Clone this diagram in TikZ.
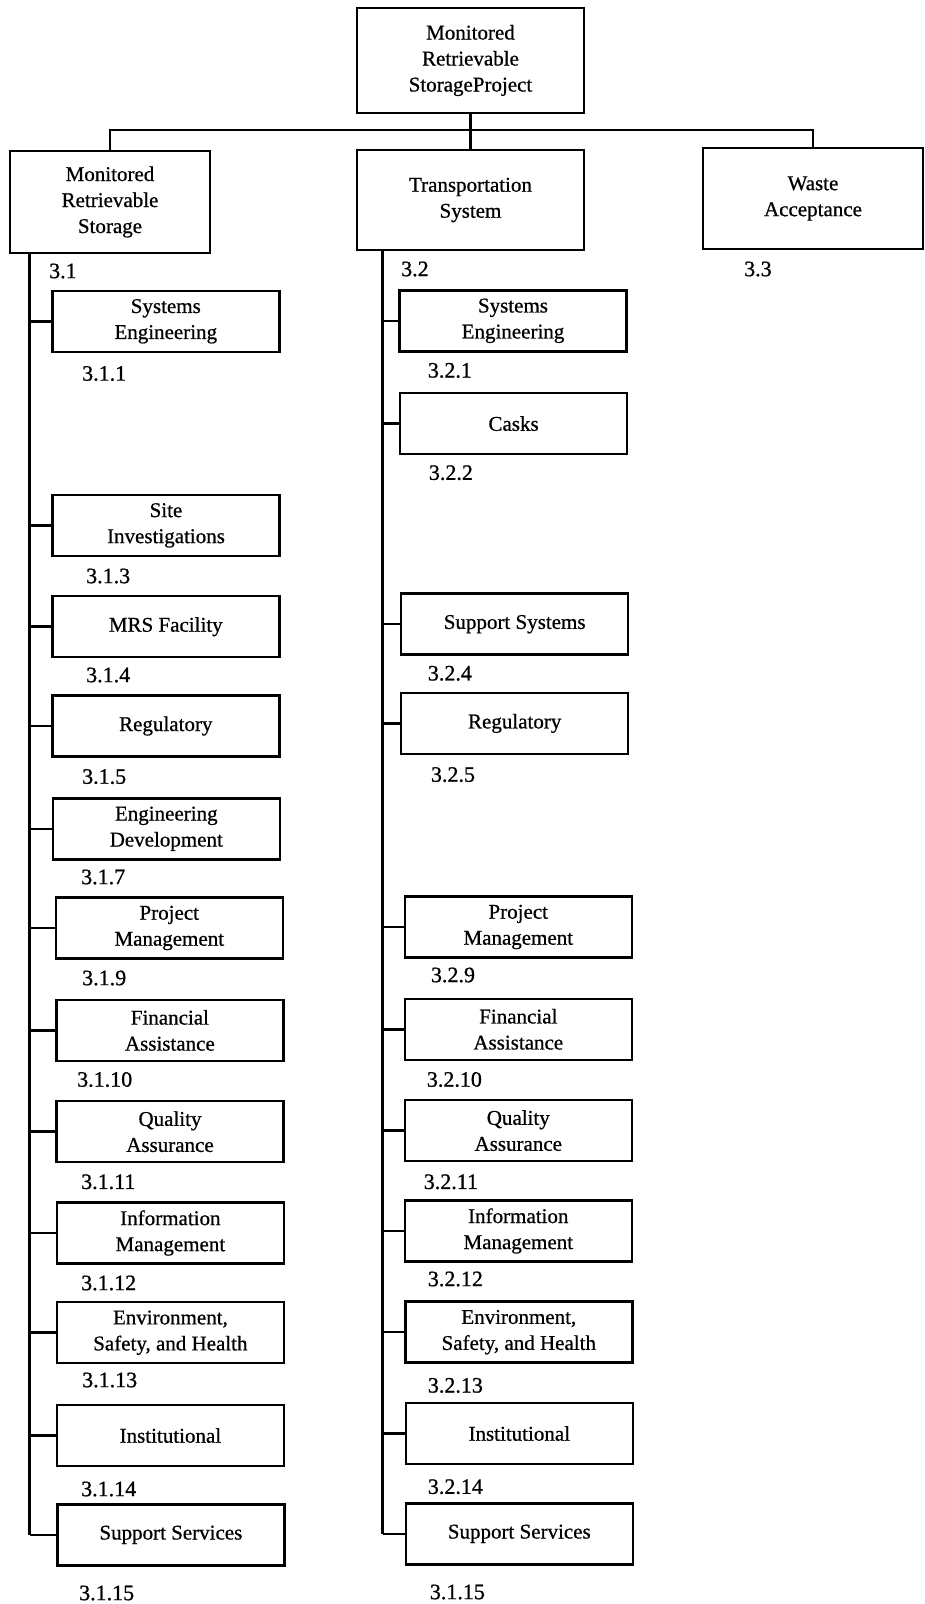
\documentclass[tikz,border=0pt]{standalone}
\usepackage{fontspec}
\setmainfont{Liberation Serif}
\newfontfamily\boxfont[FakeBold=0.7]{Liberation Serif}
\newfontfamily\lblfont[FakeBold=0.9]{Liberation Serif}
\begin{document}
\begin{tikzpicture}[x=1pt,y=-1pt,
  box/.style={draw,line width=2.5pt,minimum width=227pt,minimum height=61pt,inner sep=0pt,align=center,font=\boxfont\fontsize{21}{26}\selectfont},
  lbl/.style={anchor=west,inner sep=0pt,font=\lblfont\fontsize{22}{26}\selectfont},
  conn/.style={line width=2.5pt}]
\useasboundingbox (0,0) rectangle (925,1604);
% top
\node[box,minimum height=105pt] (top) at (470.5,60.5) {Monitored\\Retrievable\\StorageProject};
\node[box,minimum width=200pt,minimum height=102pt] (mrs) at (110,202) {Monitored\\Retrievable\\Storage};
\node[box,minimum height=100pt] (trans) at (470.5,200) {Transportation\\System};
\node[box,minimum width=220pt,minimum height=101pt] (waste) at (813,198.5) {Waste\\Acceptance};
\node[lbl] (l31) at (49,271) {3.1};
\node[lbl] (l32) at (401,269) {3.2};
\node[lbl] (l33) at (744,269) {3.3};
\coordinate (bus) at (470.5,130);
\draw[conn] (top.south) -- (bus);
\draw[conn] (bus) -- (trans.north);
\draw[conn] (mrs.north) |- (bus) -| (waste.north);
% left column
\node[box] (a1) at (165.8,321.3) {Systems\\Engineering};
\node[box] (a3) at (166,525.4) {Site\\Investigations};
\node[box] (a4) at (165.8,626.7) {MRS Facility};
\node[box] (a5) at (165.8,726) {Regulatory};
\node[box] (a7) at (166.3,828.8) {Engineering\\Development};
\node[box] (a9) at (169.3,928) {Project\\Management};
\node[box] (a10) at (169.9,1030.4) {Financial\\Assistance};
\node[box] (a11) at (170,1131.7) {Quality\\Assurance};
\node[box] (a12) at (170.4,1233) {Information\\Management};
\node[box] (a13) at (170.4,1332.7) {Environment,\\Safety, and Health};
\node[box] (a14) at (170.4,1435.5) {Institutional};
\node[box] (a15) at (170.9,1534.8) {Support Services};
\node[lbl] (la1) at (82,373.5) {3.1.1};
\node[lbl] (la3) at (86,576) {3.1.3};
\node[lbl] (la4) at (86,675) {3.1.4};
\node[lbl] (la5) at (82,776.6) {3.1.5};
\node[lbl] (la7) at (81,877) {3.1.7};
\node[lbl] (la9) at (82,978) {3.1.9};
\node[lbl] (la10) at (77,1079.5) {3.1.10};
\node[lbl] (la11) at (81,1181.8) {3.1.11};
\node[lbl] (la12) at (81,1283) {3.1.12};
\node[lbl] (la13) at (82,1380) {3.1.13};
\node[lbl] (la14) at (81,1489) {3.1.14};
\node[lbl] (la15) at (79,1593) {3.1.15};
\coordinate (tL) at (29.7,0);
\draw[conn] (mrs.south -| tL) -- (a15.west -| tL);
\foreach \n in {a1,a3,a4,a5,a7,a9,a10,a11,a12,a13,a14,a15}
  \draw[conn] (\n.west -| tL) -- (\n.west);
% right column
\node[box] (b1) at (513,320.8) {Systems\\Engineering};
\node[box] (b2) at (513.6,423.6) {Casks};
\node[box] (b4) at (514.7,624.2) {Support Systems};
\node[box] (b5) at (514.7,723.4) {Regulatory};
\node[box] (b9) at (518.3,927) {Project\\Management};
\node[box] (b10) at (518.3,1029.3) {Financial\\Assistance};
\node[box] (b11) at (518.3,1130.6) {Quality\\Assurance};
\node[box] (b12) at (518.3,1230.9) {Information\\Management};
\node[box] (b13) at (518.8,1332.2) {Environment,\\Safety, and Health};
\node[box] (b14) at (519.3,1433.5) {Institutional};
\node[box] (b15) at (519.3,1533.8) {Support Services};
\node[lbl] (lb1) at (427.7,370.4) {3.2.1};
\node[lbl] (lb2) at (428.7,472.7) {3.2.2};
\node[lbl] (lb4) at (427.7,673.3) {3.2.4};
\node[lbl] (lb5) at (430.8,774.6) {3.2.5};
\node[lbl] (lb9) at (430.8,975) {3.2.9};
\node[lbl] (lb10) at (426.7,1079.5) {3.2.10};
\node[lbl] (lb11) at (423.6,1181.8) {3.2.11};
\node[lbl] (lb12) at (427.7,1279) {3.2.12};
\node[lbl] (lb13) at (427.7,1385.4) {3.2.13};
\node[lbl] (lb14) at (427.7,1486.7) {3.2.14};
\node[lbl] (lb15) at (429.7,1592) {3.1.15};
\coordinate (tR) at (382.7,0);
\draw[conn] (trans.south -| tR) -- (b15.west -| tR);
\foreach \n in {b1,b2,b4,b5,b9,b10,b11,b12,b13,b14,b15}
  \draw[conn] (\n.west -| tR) -- (\n.west);
\end{tikzpicture}
\end{document}
